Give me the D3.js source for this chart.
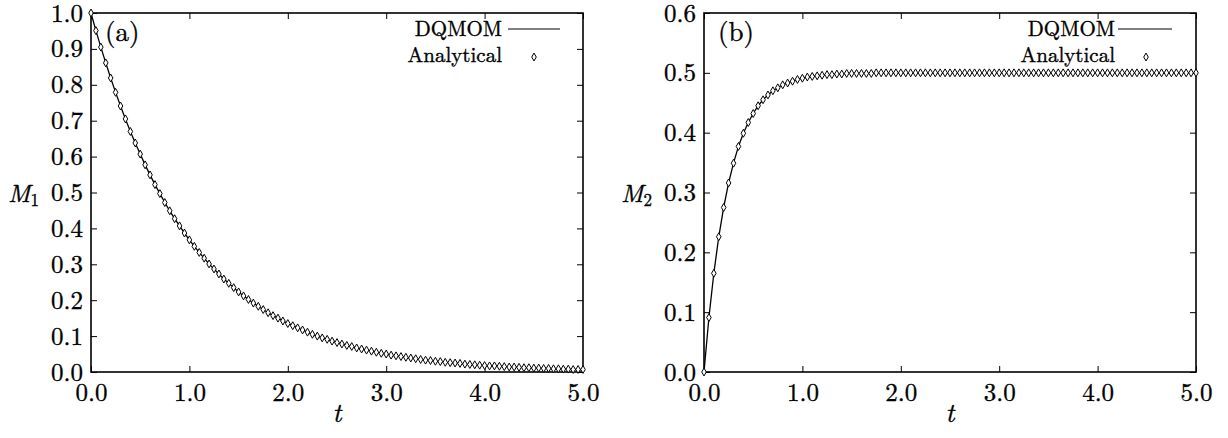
<!DOCTYPE html>
<html><head><meta charset="utf-8">
<script src="https://cdn.jsdelivr.net/npm/d3@7/dist/d3.min.js"></script>
<style>
body{margin:0;background:#fff;}
svg text{font-family:"Latin Modern Roman","Liberation Serif",serif;fill:#000;stroke:#000;stroke-width:0.35px;}
</style></head>
<body><svg id="c" width="1228" height="438"></svg>
<script>
const tValues = [0.00,0.05,0.10,0.15,0.20,0.25,0.30,0.35,0.40,0.45,0.50,0.55,0.60,0.65,0.70,0.75,0.80,0.85,0.90,0.95,
1.00,1.05,1.10,1.15,1.20,1.25,1.30,1.35,1.40,1.45,1.50,1.55,1.60,1.65,1.70,1.75,1.80,1.85,1.90,1.95,
2.00,2.05,2.10,2.15,2.20,2.25,2.30,2.35,2.40,2.45,2.50,2.55,2.60,2.65,2.70,2.75,2.80,2.85,2.90,2.95,
3.00,3.05,3.10,3.15,3.20,3.25,3.30,3.35,3.40,3.45,3.50,3.55,3.60,3.65,3.70,3.75,3.80,3.85,3.90,3.95,
4.00,4.05,4.10,4.15,4.20,4.25,4.30,4.35,4.40,4.45,4.50,4.55,4.60,4.65,4.70,4.75,4.80,4.85,4.90,4.95,5.00];

const m1Values = [1.000,0.951,0.905,0.861,0.819,0.779,0.741,0.705,0.670,0.638,0.607,0.577,0.549,0.522,0.497,0.472,0.449,0.427,0.407,0.387,
0.368,0.350,0.333,0.317,0.301,0.287,0.273,0.259,0.247,0.235,0.223,0.212,0.202,0.192,0.183,0.174,0.165,0.157,0.150,0.142,
0.135,0.129,0.123,0.117,0.111,0.105,0.100,0.095,0.091,0.086,0.082,0.078,0.074,0.071,0.067,0.064,0.061,0.058,0.055,0.052,
0.050,0.047,0.045,0.043,0.041,0.039,0.037,0.035,0.033,0.032,0.030,0.029,0.027,0.026,0.025,0.024,0.022,0.021,0.020,0.019,
0.018,0.017,0.017,0.016,0.015,0.014,0.014,0.013,0.012,0.012,0.011,0.011,0.010,0.010,0.009,0.009,0.008,0.008,0.007,0.007,0.007];

const m2Values = [0.000,0.091,0.165,0.226,0.275,0.316,0.349,0.377,0.399,0.417,0.432,0.445,0.455,0.463,0.470,0.475,0.480,0.483,0.486,0.489,
0.491,0.493,0.494,0.495,0.496,0.497,0.497,0.498,0.498,0.499,0.499,0.499,0.499,0.499,0.499,0.500,0.500,0.500,0.500,0.500,
0.500,0.500,0.500,0.500,0.500,0.500,0.500,0.500,0.500,0.500,0.500,0.500,0.500,0.500,0.500,0.500,0.500,0.500,0.500,0.500,
0.500,0.500,0.500,0.500,0.500,0.500,0.500,0.500,0.500,0.500,0.500,0.500,0.500,0.500,0.500,0.500,0.500,0.500,0.500,0.500,
0.500,0.500,0.500,0.500,0.500,0.500,0.500,0.500,0.500,0.500,0.500,0.500,0.500,0.500,0.500,0.500,0.500,0.500,0.500,0.500,0.500];

const xTicks = [0,1,2,3,4,5];
const m1Ticks = [0,0.1,0.2,0.3,0.4,0.5,0.6,0.7,0.8,0.9,1.0];
const m2Ticks = [0,0.1,0.2,0.3,0.4,0.5,0.6];
const seriesNames = ["DQMOM","Analytical"];
const panelLabels = ["(a)","(b)"];
const yLabelSubs = ["1","2"];

const SERIF = "'Latin Modern Roman', 'Liberation Serif', serif";
const svg = d3.select("#c");
const fmt = d3.format(".1f");

const panels = [
  {left:91, right:583, top:13, bottom:372, y:m1Values, yMax:1.0, yTicks:m1Ticks, label:panelLabels[0], sub:yLabelSubs[0], legEnd:502, legLine:[508,560], legMark:534},
  {left:704, right:1196, top:13, bottom:372, y:m2Values, yMax:0.6, yTicks:m2Ticks, label:panelLabels[1], sub:yLabelSubs[1], legEnd:1115, legLine:[1118,1172], legMark:1146}
];

panels.forEach(p => {
  const x = d3.scaleLinear().domain([0,5]).range([p.left,p.right]);
  const y = d3.scaleLinear().domain([0,p.yMax]).range([p.bottom,p.top]);
  const g = svg.append("g");
  const styleAxis = (sel, showText) => {
    sel.attr("font-family", SERIF).attr("font-size", 25);
    sel.select(".domain").remove();
    sel.selectAll(".tick line").attr("stroke","#000").attr("stroke-width",1);
    sel.selectAll("text").style("font-family", SERIF).style("font-size","25px");
    if(!showText) sel.selectAll("text").remove();
  };
  g.append("g").attr("transform",`translate(0,${p.bottom})`)
    .call(d3.axisBottom(x).tickValues(xTicks).tickFormat(fmt).tickSize(-6).tickPadding(11))
    .call(s=>styleAxis(s,true));
  g.append("g").attr("transform",`translate(0,${p.top})`)
    .call(d3.axisTop(x).tickValues(xTicks).tickSize(-6))
    .call(s=>styleAxis(s,false));
  g.append("g").attr("transform",`translate(${p.left},0)`)
    .call(d3.axisLeft(y).tickValues(p.yTicks).tickFormat(fmt).tickSize(-6).tickPadding(8))
    .call(s=>styleAxis(s,true));
  g.append("g").attr("transform",`translate(${p.right},0)`)
    .call(d3.axisRight(y).tickValues(p.yTicks).tickSize(-6))
    .call(s=>styleAxis(s,false));
  g.append("rect").attr("x",p.left).attr("y",p.top).attr("width",p.right-p.left).attr("height",p.bottom-p.top)
    .attr("fill","none").attr("stroke","#000").attr("stroke-width",1.6);

  const pts = tValues.map((t,i)=>[t,p.y[i]]);
  g.append("path").datum(pts)
    .attr("d", d3.line().x(d=>x(d[0])).y(d=>y(d[1])))
    .attr("fill","none").attr("stroke","#000").attr("stroke-width",1.3);
  const diamond = d3.symbol().type(d3.symbolDiamond).size(18);
  g.selectAll("path.mk").data(pts).join("path").attr("class","mk")
    .attr("d",diamond).attr("transform",d=>`translate(${x(d[0])},${y(d[1])})`)
    .attr("fill","#fff").attr("stroke","#000").attr("stroke-width",1);

  // panel label
  g.append("text").attr("x",p.left+14).attr("y",p.top+28).style("font-size","27px").text(p.label);
  // legend
  g.append("text").attr("x",p.legEnd).attr("y",36).attr("text-anchor","end").style("font-size","21px").text(seriesNames[0]);
  g.append("line").attr("x1",p.legLine[0]).attr("x2",p.legLine[1]).attr("y1",29).attr("y2",29).attr("stroke","#000").attr("stroke-width",1.2);
  g.append("text").attr("x",p.legEnd).attr("y",62).attr("text-anchor","end").style("font-size","21px").text(seriesNames[1]);
  g.append("path").attr("d",diamond).attr("transform",`translate(${p.legMark},57)`)
    .attr("fill","#fff").attr("stroke","#000").attr("stroke-width",1);
  // axis labels
  g.append("text").attr("x",(p.left+p.right)/2).attr("y",422).attr("text-anchor","middle")
    .style("font-size","27px").style("font-style","italic").text("t");
  const yl = g.append("text").attr("x",p.left-83).attr("y",202).style("font-size","25px");
  yl.append("tspan").style("font-style","italic").text("M");
  yl.append("tspan").attr("dy",4).style("font-size","17px").text(p.sub);
});
</script></body></html>
